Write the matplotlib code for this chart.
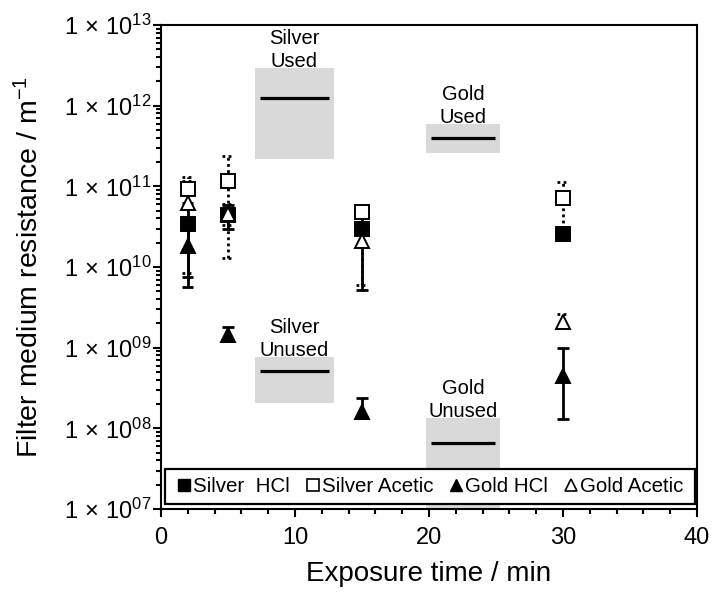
import matplotlib
matplotlib.use("Agg")
import matplotlib.pyplot as plt
from matplotlib.patches import Rectangle
from matplotlib.lines import Line2D
from matplotlib.transforms import offset_copy
from matplotlib.ticker import FixedLocator, FuncFormatter, MultipleLocator, NullFormatter
import numpy as np

plt.rcParams["font.family"] = ["Liberation Sans", "DejaVu Sans"]
plt.rcParams["mathtext.fontset"] = "custom"
plt.rcParams["mathtext.rm"] = "Liberation Sans"
plt.rcParams["mathtext.it"] = "Liberation Sans:italic"
plt.rcParams["mathtext.bf"] = "Liberation Sans:bold"

# Exposure times (min)
times = [2, 5, 15, 30]

# Filter medium resistance (1/m) with lower / upper error limits
silver_hcl = [3.4e10, 4.4e10, 3.0e10, 2.6e10]
silver_hcl_lo = [5.7e9, 3.0e10, 5.2e9, 2.3e10]
silver_hcl_hi = [6.2e10, 5.8e10, 5.5e10, 2.9e10]

silver_acetic = [9.2e10, 1.17e11, 4.85e10, 7.2e10]
silver_acetic_lo = [5.2e10, 1.3e10, 4.4e10, 3.0e10]
silver_acetic_hi = [1.32e11, 2.4e11, 5.3e10, 1.14e11]

gold_hcl = [1.8e10, 1.44e9, 1.6e8, 4.5e8]
gold_hcl_lo = [7.5e9, 1.2e9, 1.35e8, 1.3e8]
gold_hcl_hi = [2.85e10, 1.8e9, 2.35e8, 9.8e8]

gold_acetic = [6.3e10, 4.6e10, 2.1e10, 2.1e9]
gold_acetic_lo = [8.4e9, 3.3e10, 6.0e9, 1.75e9]
gold_acetic_hi = [1.18e11, 6.0e10, 3.6e10, 2.6e9]

# Reference filters: mean and spread
ref_labels = ["Silver\nUsed", "Gold\nUsed", "Silver\nUnused", "Gold\nUnused"]
ref_mean = [1.23e12, 4.0e11, 5.2e8, 6.5e7]
ref_low = [2.2e11, 2.57e11, 2.04e8, 1.0e7]
ref_high = [2.9e12, 5.9e11, 7.7e8, 1.33e8]
ref_span = [(7.0, 12.9), (19.75, 25.3), (7.0, 12.9), (19.75, 25.3)]

# y-axis decades shown
decades = [7, 8, 9, 10, 11, 12, 13]

fig = plt.figure(figsize=(7.15, 5.97), dpi=100)
ax = fig.add_axes([0.2252, 0.1474, 0.7497, 0.8107])

ax.set_yscale("log")
ax.set_xlim(0, 40)
ax.set_ylim(10.0 ** decades[0], 10.0 ** decades[-1])

# shaded reference bands with mean lines and labels
label_tf = offset_copy(ax.transData, fig=fig, x=0, y=-2, units="points")
for lab, m, lo, hi, (x0, x1) in zip(ref_labels, ref_mean, ref_low, ref_high, ref_span):
    ax.fill_between([x0, x1], [lo, lo], [hi, hi], color="#d9d9d9", linewidth=0, zorder=1)
    ax.hlines(m, x0 + 0.4, x1 - 0.4, colors="k", linewidth=2.3, zorder=1.5)
    ax.text((x0 + x1) / 2, hi, lab, ha="center", va="bottom", fontsize=14.5,
            multialignment="center", linespacing=1.25, transform=label_tf, zorder=1.5)

CAP = 0.42


def error_bars(x, lo, hi, ls):
    ax.vlines(x, lo, hi, colors="k", linewidth=2.0, linestyles=ls, zorder=2)
    for xi, l, h in zip(x, lo, hi):
        ax.hlines([l, h], xi - CAP, xi + CAP, colors="k", linewidth=2.0,
                  linestyles=ls, zorder=2)


dotted = (0, (1.0, 1.2))
error_bars(times, silver_hcl_lo, silver_hcl_hi, "solid")
error_bars(times, silver_acetic_lo, silver_acetic_hi, dotted)
error_bars(times, gold_hcl_lo, gold_hcl_hi, "solid")
error_bars(times, gold_acetic_lo, gold_acetic_hi, dotted)

mk = dict(ls="none", ms=10.5, mec="k", mew=1.4, zorder=3)
ax.plot(times, silver_hcl, marker="s", mfc="k", **mk)
ax.plot(times, silver_acetic, marker="s", mfc="w", **mk)
ax.plot(times, gold_hcl, marker="^", mfc="k", **mk)
ax.plot(times, gold_acetic, marker="^", mfc="w", **mk)

# axes styling
for s in ax.spines.values():
    s.set_linewidth(1.5)
    s.set_color("k")

ax.xaxis.set_major_locator(MultipleLocator(10))
ax.xaxis.set_minor_locator(MultipleLocator(2))
ax.yaxis.set_major_locator(FixedLocator([10.0 ** d for d in decades]))
ax.yaxis.set_minor_locator(FixedLocator(
    [k * 10.0 ** d for d in decades[:-1] for k in range(2, 10)]))
ax.yaxis.set_minor_formatter(NullFormatter())
ax.yaxis.set_major_formatter(FuncFormatter(
    lambda v, p: r"$\mathregular{1\,\times\,10^{%02d}}$" % int(round(np.log10(v)))))

ax.tick_params(which="both", direction="out", width=1.5, colors="k",
               top=False, right=False, labelsize=17)
ax.tick_params(which="major", length=6)
ax.tick_params(which="minor", length=3.5)
ax.tick_params(axis="y", pad=1)
ax.tick_params(axis="x", pad=7)

ax.set_xlabel("Exposure time / min", fontsize=20)
ax.set_ylabel(r"Filter medium resistance / m$^{\mathregular{-1}}$", fontsize=20.5)
ax.xaxis.set_label_coords(0.5, -0.108)
ax.yaxis.set_label_coords(-0.218, 0.5)

# legend with its own frame
frame = Rectangle((0.0075, 0.0103), 0.9888, 0.0723, transform=ax.transAxes,
                  facecolor="w", edgecolor="k", linewidth=1.6, zorder=4)
ax.add_patch(frame)
handles = [
    Line2D([], [], ls="none", marker="s", ms=8, mfc="k", mec="k"),
    Line2D([], [], ls="none", marker="s", ms=8, mfc="w", mec="k", mew=1.2),
    Line2D([], [], ls="none", marker="^", ms=8, mfc="k", mec="k"),
    Line2D([], [], ls="none", marker="^", ms=8, mfc="w", mec="k", mew=1.2),
]
labels = ["Silver  HCl", "Silver Acetic", "Gold HCl", "Gold Acetic"]
leg = ax.legend(handles, labels, ncol=4, frameon=False, loc="center left",
                bbox_to_anchor=(0.0317, 0.0465), borderpad=0, borderaxespad=0,
                handlelength=0.6, handletextpad=0.15, columnspacing=0.8,
                fontsize=14.8)
leg.set_zorder(5)

fig.savefig("out.png", dpi=100)
